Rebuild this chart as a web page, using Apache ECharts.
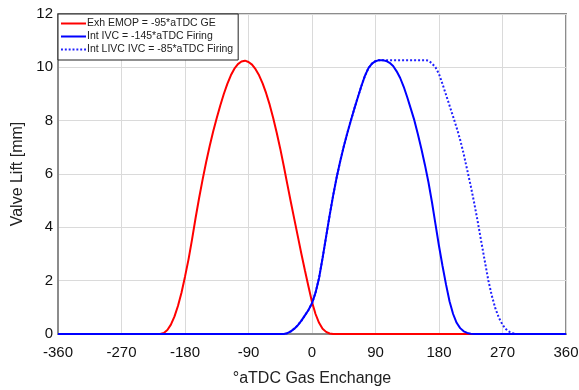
<!DOCTYPE html>
<html>
<head>
<meta charset="utf-8">
<script src="https://cdn.jsdelivr.net/npm/echarts@6/dist/echarts.min.js"></script>
<style>
html,body{margin:0;padding:0;background:#fff;}
#chart{width:579px;height:390px;}
</style>
</head>
<body>
<div id="chart"></div>
<script>
var xTicks = [-360, -270, -180, -90, 0, 90, 180, 270, 360];
var yTicks = [0, 2, 4, 6, 8, 10, 12];
var seriesNames = ['Exh EMOP = -95*aTDC GE', 'Int IVC = -145*aTDC Firing', 'Int LIVC IVC = -85*aTDC Firing'];

// [crank angle, lift]
var exhEMOP = [
  [-360,0],[-215,0],[-210,0.04],[-205,0.15],[-200,0.35],[-195,0.65],[-190,1.05],[-185,1.55],
  [-180,2.15],[-175,2.8],[-170,3.55],[-165,4.35],[-160,5.1],[-155,5.8],[-150,6.45],[-145,7.05],
  [-140,7.6],[-135,8.1],[-130,8.57],[-125,9.0],[-120,9.38],[-115,9.7],[-110,9.95],[-105,10.12],
  [-100,10.22],[-95,10.25],[-90,10.2],[-85,10.1],[-80,9.93],[-75,9.7],[-70,9.4],[-65,9.03],
  [-60,8.6],[-55,8.1],[-50,7.55],[-45,6.95],[-40,6.3],[-35,5.62],[-30,4.95],[-25,4.3],
  [-20,3.65],[-15,3.0],[-10,2.38],[-5,1.78],[0,1.2],[5,0.75],[10,0.42],[15,0.2],[20,0.08],
  [25,0.02],[30,0],[360,0]
];
var intIVC = [
  [-360,0],[-40,0],[-35,0.03],[-30,0.1],[-25,0.2],[-20,0.33],[-15,0.5],[-10,0.7],[-5,0.9],
  [0,1.15],[5,1.55],[10,2.1],[15,2.85],[20,3.65],[25,4.45],[30,5.2],[35,5.88],[40,6.48],
  [45,7.03],[50,7.53],[55,8.0],[60,8.45],[65,8.88],[70,9.3],[75,9.68],[80,9.97],[85,10.14],
  [90,10.23],[95,10.27],[100,10.27],[105,10.24],[110,10.17],[115,10.05],[120,9.85],[125,9.6],
  [130,9.27],[135,8.88],[140,8.45],[145,8.02],[150,7.5],[155,6.95],[160,6.35],[165,5.7],
  [170,4.95],[175,4.12],[180,3.3],[185,2.55],[190,1.85],[195,1.22],[200,0.75],[205,0.42],
  [210,0.22],[215,0.1],[220,0.04],[225,0.01],[230,0],[360,0]
];
var intLIVC = [
  [-360,0],[-40,0],[-35,0.03],[-30,0.1],[-25,0.2],[-20,0.33],[-15,0.5],[-10,0.7],[-5,0.9],
  [0,1.15],[5,1.55],[10,2.1],[15,2.85],[20,3.65],[25,4.45],[30,5.2],[35,5.88],[40,6.48],
  [45,7.03],[50,7.53],[55,8.0],[60,8.45],[65,8.88],[70,9.3],[75,9.68],[80,9.97],[85,10.14],
  [90,10.23],[95,10.27],[100,10.27],[130,10.27],[160,10.27],[165,10.25],[170,10.15],[175,10.0],
  [180,9.75],[185,9.37],[190,8.97],[195,8.56],[200,8.15],[205,7.74],[210,7.28],[215,6.75],
  [220,6.15],[225,5.55],[230,4.9],[235,4.2],[240,3.45],[245,2.72],[250,2.0],[255,1.42],
  [260,0.95],[265,0.6],[270,0.35],[275,0.18],[280,0.08],[285,0.03],[290,0],[360,0]
];

var font = '"Liberation Sans", Arial, sans-serif';
var solidIcon = 'path://M0,0H25V2H0Z';
var dottedIcon = 'path://M0,0H2V2H0Z M4,0H6V2H4Z M8,0H10V2H8Z M12,0H14V2H12Z M16,0H18V2H16Z M20,0H22V2H20Z M24,0H26V2H24Z';
var chart = echarts.init(document.getElementById('chart'), null, {renderer: 'canvas'});
chart.setOption({
  animation: false,
  backgroundColor: '#fff',
  textStyle: {fontFamily: font},
  grid: {left: 58, right: 13, top: 14, bottom: 56, outerBoundsMode: 'none', containLabel: false,
         show: true, borderColor: '#8c8c8c', borderWidth: 2, backgroundColor: 'transparent'},
  legend: {
    orient: 'vertical', left: 58, top: 14,
    data: [
      {name: seriesNames[0], icon: solidIcon},
      {name: seriesNames[1], icon: solidIcon},
      {name: seriesNames[2], icon: dottedIcon}
    ],
    backgroundColor: '#fff', borderColor: '#222', borderWidth: 1, borderRadius: 0,
    padding: [4, 5, 5, 3], itemWidth: 25, itemHeight: 8, itemGap: 2,
    textStyle: {fontFamily: font, fontSize: 10.5, lineHeight: 11, color: '#222', padding: [0, 0, 0, -4]}
  },
  xAxis: {
    type: 'value', min: xTicks[0], max: xTicks[xTicks.length - 1], interval: 90,
    name: '°aTDC Gas Enchange', nameLocation: 'middle', nameGap: 37,
    nameTextStyle: {fontSize: 16, color: '#222', fontFamily: font},
    axisLine: {show: true, onZero: false, lineStyle: {color: '#8c8c8c', width: 2}},
    axisTick: {show: false},
    axisLabel: {fontSize: 15, color: '#111', margin: 11, fontFamily: font},
    splitLine: {show: true, lineStyle: {color: '#dadada', width: 1}}
  },
  yAxis: {
    type: 'value', min: yTicks[0], max: yTicks[yTicks.length - 1], interval: 2,
    name: 'Valve Lift [mm]', nameLocation: 'middle', nameGap: 21,
    nameTextStyle: {fontSize: 16, color: '#222', fontFamily: font},
    axisLine: {show: true, onZero: false, lineStyle: {color: '#8c8c8c', width: 2}},
    axisTick: {show: false},
    axisLabel: {fontSize: 15, color: '#111', margin: 5, fontFamily: font},
    splitLine: {show: true, lineStyle: {color: '#dadada', width: 1}}
  },
  series: [
    {name: seriesNames[2], type: 'line', data: intLIVC, symbol: 'none', smooth: false, z: 2,
     lineStyle: {color: '#2020ff', width: 2, type: [2, 2]}, itemStyle: {color: '#2020ff'}},
    {name: seriesNames[0], type: 'line', data: exhEMOP, symbol: 'none', smooth: false, z: 3,
     lineStyle: {color: '#ff0000', width: 2}, itemStyle: {color: '#ff0000'}},
    {name: seriesNames[1], type: 'line', data: intIVC, symbol: 'none', smooth: false, z: 4,
     lineStyle: {color: '#0000ff', width: 2}, itemStyle: {color: '#0000ff'}}
  ]
});
</script>
</body>
</html>
